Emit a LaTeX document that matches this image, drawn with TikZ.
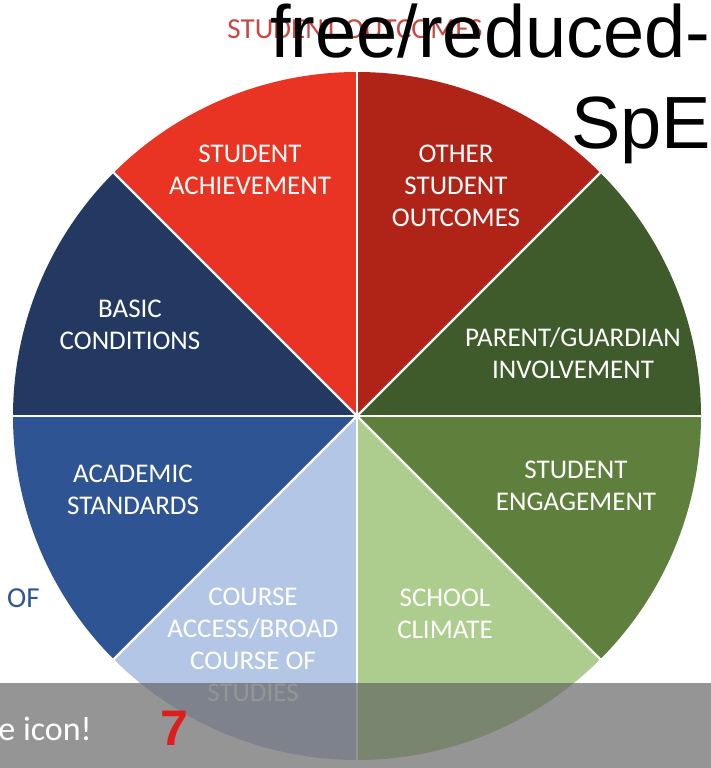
\documentclass[tikz,border=0pt]{standalone}
\usepackage{fontspec}
\setmainfont{Carlito}
\newfontfamily\arialf{Liberation Sans}
\definecolor{achv}{RGB}{233,51,35}
\definecolor{other}{RGB}{176,36,24}
\definecolor{parent}{RGB}{63,90,43}
\definecolor{engage}{RGB}{95,127,60}
\definecolor{climate}{RGB}{173,205,143}
\definecolor{course}{RGB}{180,198,230}
\definecolor{academic}{RGB}{47,84,148}
\definecolor{basic}{RGB}{36,57,98}
\definecolor{toplbl}{RGB}{200,72,66}
\definecolor{ofblue}{RGB}{47,85,151}
\definecolor{seven}{RGB}{222,30,30}
\definecolor{bandgray}{RGB}{98,98,98}
\tikzset{
  lbl/.style={text=white, align=center, inner sep=0pt, font=\fontsize{27}{32}\selectfont},
  sepline/.style={white, line width=2.2pt},
}
\begin{document}
\begin{tikzpicture}[x=1pt,y=-1pt]
\useasboundingbox (0,0) rectangle (711,768);
\fill[white] (0,0) rectangle (711,768);
\coordinate (C) at (357,416);
\def\R{344}
\foreach \a/\b/\c in {-135/-90/achv, -90/-45/other, -45/0/parent, 0/45/engage, 45/90/climate, 90/135/course, 135/180/academic, 180/225/basic}
  {\fill[\c] (C) -- ++(\a:\R) arc[start angle=\a, end angle=\b, radius=\R] -- cycle;}
\foreach \a in {0,45,...,315}
  {\draw[sepline] (C) -- ++(\a:\R);}
\node[lbl] (achvt) at (250,170) {STUDENT\\ACHIEVEMENT};
\node[lbl] (othert) at (456,186) {OTHER\\STUDENT\\OUTCOMES};
\node[lbl] (basict) at (130,325) {BASIC\\CONDITIONS};
\node[lbl] (parentt) at (573,353) {PARENT/GUARDIAN\\INVOLVEMENT};
\node[lbl] (academict) at (133,490) {ACADEMIC\\STANDARDS};
\node[lbl] (engaget) at (576,486) {STUDENT\\ENGAGEMENT};
\node[lbl] (courset) at (253,645) {COURSE\\ACCESS/BROAD\\COURSE OF\\STUDIES};
\node[lbl] (climatet) at (445,614) {SCHOOL\\CLIMATE};
\node[inner sep=0pt, text=toplbl, font=\fontsize{29}{32}\selectfont] (outt) at (355,29) {STUDENT OUTCOMES};
\node[inner sep=0pt, anchor=base west, font=\arialf\fontsize{74}{80}\selectfont] (free) at (270,58) {free/reduced-};
\node[inner sep=0pt, anchor=base west, font=\arialf\fontsize{74}{80}\selectfont] (spe) at (571,148) {SpE};
\node[inner sep=0pt, text=ofblue, font=\fontsize{29}{32}\selectfont, anchor=west] (of) at (7,598) {OF};
\fill[bandgray, opacity=0.67] (0,683) rectangle (711,768);
\node[inner sep=0pt, text=white, anchor=base east, font=\fontsize{34}{40}\selectfont] (icon) at (92,740) {e icon!};
\node[inner sep=0pt, text=seven, font=\arialf\bfseries\fontsize{50}{56}\selectfont] (sev) at (174,728) {7};
\end{tikzpicture}
\end{document}
